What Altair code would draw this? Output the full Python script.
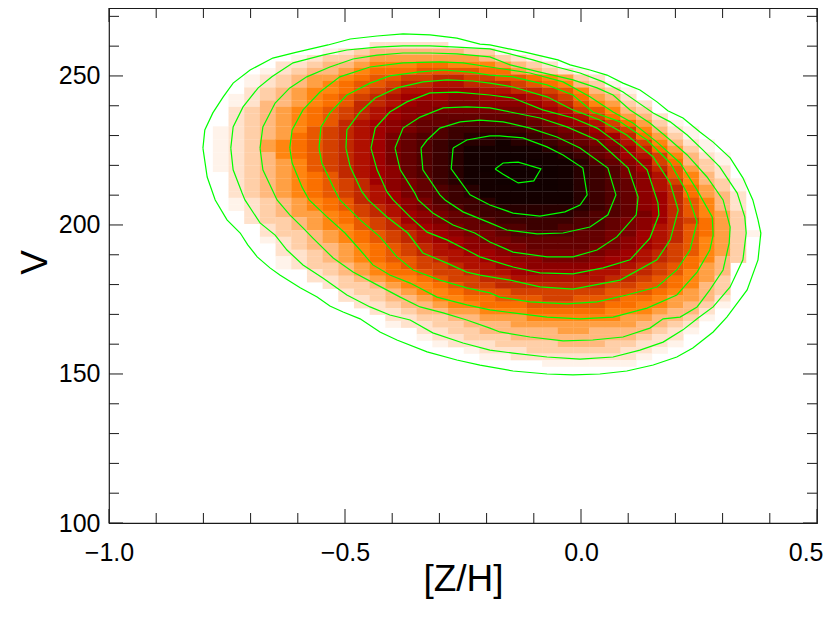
import altair as alt
import pandas as pd

# Density cells, read row by row from the top of the picture; one base-21 digit per cell.
cell_rows = [
    "000000000022222",
    "0000000123444444331",
    "000001233455555554321",
    "0000223445666776665432",
    "000123445677788887754321",
    "00123455678899aa998876532",
    "001234567889aabbaaa9876431",
    "00234566789abbcccbbaa986431",
    "0123456789abcccddcccba97542",
    "012445678aabcddeedddcba86532",
    "023456789abcddeeeeeedcb98643",
    "023456789abcdeffffffedcb97542",
    "02345678abcdeffgggggfedcb97531",
    "12345689abcdefghhhhhgfeeca96421",
    "12345789abcefgghiiiihgfedca7531",
    "12356789abcefghiiijiihgfedb96421",
    "12356789abcefghijjjjjihgfeca7531",
    "12346789abcefghijjkkjjihfecb96421",
    "12345689abcefghijjkkkjjigfdc97431",
    "12345689abcdfghijkkkkkjihgeca8532",
    "02345678abcdfghijjkkkkjihgedb8642",
    "023456789acdefhijjkkkkjihgfdb96431",
    "023456789abdefghijjkkkjihgfdba7531",
    "023456789abcefghijjjjjjihgfdca7542",
    "012345678abcdeghhijjjjjihgfdca8642",
    "0123456789abdefghhiiiiiihgfdca8642",
    "0023455679abcdefghhiiiihggfeca8653",
    "00233456789acdeffghhhhhggfedca9753",
    "00023456689abcdeffgghhgggfedba8753",
    "000233456789abcdeefggggffeecba87531",
    "000123456789abccdeeffffffedcba8653",
    "0000234456789abcddeeffffeedcb98653",
    "0000223456789abbccdeeeeeedcba98653",
    "00001234567889abbccddeeedccba97643",
    "000012334567899abbccddddccba98754",
    "0000002345677899abbcccccbbaa98654",
    "00000022345667899aabbbbbbaa987653",
    "000000023345667899aaaaaaa99887643",
    "000000002334566788899999988876543",
    "000000002234456677888998887765542",
    "000000000223445667778888877665431",
    "00000000002234455666777776665442",
    "00000000000223344555666666554431",
    "0000000000012233444555555554432",
    "0000000000000223344444554444321",
    "000000000000012233344444444322",
    "000000000000001222333344433221",
    "00000000000000001222333333221",
    "0000000000000000011222222221",
    "000000000000000000000111111",
]
grid_x0, grid_dx = -0.780, 0.03322
grid_y0, grid_dy = 261.4, 2.178

color_levels = list(range(21))
color_values = [
    "#ffffff", "#fff3ea", "#ffe2cc", "#ffcfa8", "#ffb97e", "#ffa044", "#ff8510",
    "#fa7000", "#e85800", "#d44000", "#c02800", "#b01000", "#a00000", "#8c0000",
    "#780000", "#640000", "#500000", "#3c0000", "#280000", "#140000", "#000000",
]

contour_1 = [(-.801,225.8),(-.797,231.9),(-.780,237.6),(-.758,243.0),(-.737,247.6),(-.701,252.0),(-.653,256.0),(-.602,258.0),(-.536,260.4),(-.489,262.4),(-.432,263.4),(-.377,264.1),(-.320,263.8),(-.263,262.7),(-.214,260.7),(-.193,260.4),(-.119,258.0),(-.049,255.4),(-.023,253.7),(.019,252.0),(.055,250.3),(.089,247.6),(.125,245.3),(.161,241.3),(.184,238.3),(.216,235.9),(.252,231.2),(.280,227.8),(.316,222.5),(.343,215.8),(.364,208.4),(.375,201.7),(.381,197.3),(.375,188.3),(.352,178.2),(.309,169.1),(.280,164.1),(.237,158.7),(.203,155.7),(.153,153.0),(.097,151.0),(.040,150.0),(-.017,149.7),(-.072,150.0),(-.144,151.0),(-.214,153.0),(-.263,154.7),(-.326,157.4),(-.390,161.4),(-.426,164.1),(-.468,168.5),(-.504,170.8),(-.532,172.8),(-.559,175.8),(-.595,178.9),(-.638,183.2),(-.659,185.6),(-.686,189.3),(-.706,193.3),(-.722,197.3),(-.750,201.7),(-.775,208.4),(-.792,216.1)]
contour_2 = [(-.742,225.8),(-.737,232.9),(-.716,239.6),(-.684,246.0),(-.655,249.7),(-.610,254.4),(-.547,257.0),(-.496,258.7),(-.432,259.7),(-.377,260.1),(-.320,260.1),(-.263,259.7),(-.193,259.1),(-.102,255.4),(-.051,253.0),(-.002,251.0),(.047,248.0),(.089,244.6),(.119,241.3),(.153,237.6),(.189,234.6),(.225,230.2),(.258,225.2),(.294,219.5),(.331,210.7),(.347,202.7),(.350,197.3),(.343,188.3),(.316,179.2),(.280,172.5),(.248,168.8),(.216,164.8),(.174,160.7),(.125,158.0),(.068,155.7),(-.002,155.0),(-.072,155.7),(-.144,157.0),(-.193,158.0),(-.250,160.4),(-.314,163.8),(-.362,168.1),(-.405,169.8),(-.447,172.5),(-.496,176.5),(-.547,182.2),(-.589,186.6),(-.623,191.6),(-.648,196.6),(-.680,200.7),(-.712,208.4),(-.718,210.7),(-.737,218.5)]
contour_3 = [(-.680,225.8),(-.674,232.9),(-.648,240.9),(-.617,246.0),(-.581,249.7),(-.532,253.0),(-.483,255.7),(-.432,257.0),(-.377,257.7),(-.320,257.7),(-.263,257.4),(-.193,256.4),(-.150,253.7),(-.087,251.3),(-.017,248.7),(.034,246.0),(.068,243.6),(.104,238.6),(.146,234.2),(.189,228.5),(.225,223.5),(.267,216.1),(.301,208.4),(.316,199.3),(.314,194.0),(.301,184.9),(.273,178.2),(.246,172.5),(.210,169.1),(.174,168.5),(.146,165.4),(.089,162.4),(.025,161.4),(-.038,161.1),(-.108,162.4),(-.172,164.1),(-.193,165.4),(-.242,168.1),(-.292,170.5),(-.341,172.5),(-.383,175.8),(-.432,179.9),(-.483,184.2),(-.525,188.9),(-.568,195.6),(-.589,199.0),(-.617,203.4),(-.644,208.4),(-.674,218.5)]
contour_4 = [(-.617,225.8),(-.612,231.9),(-.589,238.6),(-.553,244.6),(-.511,249.7),(-.447,253.0),(-.377,254.4),(-.299,254.7),(-.250,254.4),(-.193,253.0),(-.108,251.0),(-.038,248.0),(.019,243.0),(.068,237.9),(.110,234.2),(.161,227.8),(.210,220.8),(.246,211.7),(.278,202.7),(.280,196.6),(.273,191.6),(.246,184.2),(.203,176.5),(.140,172.1),(.068,169.1),(-.002,168.5),(-.072,169.1),(-.144,170.5),(-.193,171.5),(-.242,173.2),(-.305,175.8),(-.362,180.5),(-.405,183.2),(-.441,186.6),(-.468,191.6),(-.500,197.3),(-.538,202.7),(-.576,208.4),(-.591,212.7),(-.612,220.8)]
contour_5 = [(-.555,225.8),(-.551,232.9),(-.532,237.6),(-.496,243.6),(-.447,247.6),(-.405,250.0),(-.347,251.3),(-.292,252.0),(-.235,251.3),(-.193,250.3),(-.144,249.7),(-.072,247.0),(-.017,243.6),(.025,237.9),(.083,234.6),(.140,228.5),(.189,220.8),(.225,210.7),(.246,201.0),(.231,191.6),(.203,184.9),(.161,179.2),(.097,176.5),(.034,174.2),(-.030,173.5),(-.108,174.2),(-.172,175.8),(-.193,177.2),(-.242,178.9),(-.299,181.5),(-.356,184.9),(-.390,189.3),(-.426,196.0),(-.468,201.7),(-.511,208.4),(-.525,212.7),(-.549,220.8)]
contour_6 = [(-.498,225.8),(-.496,231.9),(-.468,237.9),(-.436,242.6),(-.390,246.0),(-.335,248.0),(-.284,248.7),(-.229,248.3),(-.193,247.6),(-.144,246.3),(-.072,243.0),(-.017,238.6),(.040,235.2),(.097,230.2),(.153,222.8),(.189,214.1),(.206,205.0),(.189,195.0),(.161,188.3),(.083,181.5),(-.017,178.5),(-.087,179.2),(-.150,181.5),(-.214,183.2),(-.242,184.2),(-.284,187.2),(-.335,190.6),(-.367,197.3),(-.411,202.7),(-.451,208.4),(-.464,211.1),(-.489,219.5)]
contour_7 = [(-.445,225.8),(-.436,232.5),(-.405,237.9),(-.369,241.3),(-.320,244.3),(-.263,244.6),(-.193,243.6),(-.144,242.6),(-.081,238.6),(-.017,235.9),(.034,232.5),(.089,226.2),(.140,218.5),(.163,207.4),(.165,203.4),(.146,195.6),(.104,188.3),(.047,185.6),(-.017,183.6),(-.087,183.9),(-.144,185.9),(-.214,189.3),(-.242,191.6),(-.284,195.0),(-.326,197.6),(-.362,202.7),(-.398,208.4),(-.411,211.1),(-.432,218.5)]
contour_8 = [(-.394,225.8),(-.377,232.5),(-.341,236.2),(-.292,239.3),(-.242,239.6),(-.193,239.3),(-.150,237.9),(-.087,235.9),(-.030,232.9),(.034,228.5),(.100,219.1),(.121,209.4),(.117,203.4),(.076,196.0),(.034,191.6),(-.017,189.3),(-.072,189.3),(-.144,190.9),(-.193,194.3),(-.225,197.3),(-.271,200.0),(-.314,204.0),(-.345,208.4),(-.352,210.7),(-.383,218.5)]
contour_9 = [(-.339,225.8),(-.326,228.5),(-.299,232.5),(-.256,234.6),(-.214,235.2),(-.165,234.6),(-.108,232.5),(-.051,229.5),(-.002,225.8),(.057,219.1),(.074,210.1),(.057,203.4),(.019,199.3),(-.038,197.3),(-.093,197.0),(-.157,198.3),(-.193,200.7),(-.250,204.4),(-.288,208.4),(-.299,210.1),(-.335,218.5)]
contour_10 = [(-.271,225.8),(-.242,228.5),(-.193,229.9),(-.172,229.9),(-.123,229.2),(-.072,226.2),(-.038,223.5),(.004,219.1),(.013,210.1),(-.002,206.7),(-.034,204.4),(-.087,203.0),(-.144,204.0),(-.193,206.7),(-.235,210.1),(-.275,218.8)]
contour_11 = [(-.182,218.8),(-.165,220.8),(-.133,221.1),(-.085,218.8),(-.100,214.8),(-.133,214.1),(-.165,217.0)]

x_major = [-1.0, -0.5, 0.0, 0.5]
x_minor = [-0.9, -0.8, -0.7, -0.6, -0.4, -0.3, -0.2, -0.1, 0.1, 0.2, 0.3, 0.4]
y_major = [100, 150, 200, 250]
y_minor = [110, 120, 130, 140, 160, 170, 180, 190, 210, 220, 230, 240, 260, 270]

PLOT_W, PLOT_H = 708, 515
FONT = "Liberation Sans"
INK = "#1a1a1a"

x_scale = alt.Scale(domain=[-1.0, 0.5], nice=False, zero=False)
y_scale = alt.Scale(domain=[100, 272.8], nice=False, zero=False)

LAST_LABEL = "datum.value == 0.5"
x_axis = alt.Axis(
    title="[Z/H]", values=x_major, format=".1f", grid=False, domain=False, ticks=False,
    labelFont=FONT, labelFontSize=25, labelColor="black", labelPadding=17,
    labelFlush=False, labelOverlap=False,
    labelAlign={"condition": {"test": LAST_LABEL, "value": "right"}, "value": "center"},
    labelOffset={"condition": {"test": LAST_LABEL, "value": 6}, "value": 0},
    titleFont=FONT, titleFontSize=37, titleFontWeight="normal", titleColor="black",
    titleBaseline="alphabetic", titleX=354, titleY=67)
y_axis = alt.Axis(
    title="V", values=y_major, format="d", grid=False, domain=False, ticks=False,
    labelFont=FONT, labelFontSize=25, labelColor="black", labelPadding=9,
    labelFlush=False, labelOverlap=False,
    titleFont=FONT, titleFontSize=37, titleFontWeight="normal", titleColor="black",
    titleX=-55, titleY=254)

DIGITS = "0123456789abcdefghijk"
cells = []
for r, row in enumerate(cell_rows):
    for c, ch in enumerate(row):
        if ch != "0":
            cells.append({
                "x0": grid_x0 + c * grid_dx, "x1": grid_x0 + (c + 1.02) * grid_dx,
                "y0": grid_y0 - r * grid_dy, "y1": grid_y0 - (r + 1.04) * grid_dy,
                "level": DIGITS.index(ch),
            })

contours = [contour_1, contour_2, contour_3, contour_4, contour_5, contour_6,
            contour_7, contour_8, contour_9, contour_10, contour_11]
lines = []
for k, pts in enumerate(contours):
    for i, (px, py) in enumerate(pts + pts[:1]):
        lines.append({"x": px, "y": py, "contour": k, "i": i})

heat = alt.Chart(pd.DataFrame(cells)).mark_rect(strokeWidth=0).encode(
    x=alt.X("x0:Q", scale=x_scale, axis=x_axis),
    x2="x1:Q",
    y=alt.Y("y0:Q", scale=y_scale, axis=y_axis),
    y2="y1:Q",
    color=alt.Color("level:Q", scale=alt.Scale(domain=color_levels, range=color_values), legend=None),
)

contour_layer = alt.Chart(pd.DataFrame(lines)).mark_line(
    color="#00ff00", strokeWidth=1.2, interpolate="linear"
).encode(
    x=alt.X("x:Q", scale=x_scale, axis=x_axis),
    y=alt.Y("y:Q", scale=y_scale, axis=y_axis),
    detail="contour:N",
    order="i:Q",
)


def x_ticks(values, size):
    base = alt.Chart(pd.DataFrame({"v": values})).mark_rule(color=INK, strokeWidth=1)
    enc = alt.X("v:Q", scale=x_scale, axis=x_axis)
    return [
        base.encode(x=enc, y=alt.value(PLOT_H), y2=alt.value(PLOT_H - size)),
        base.encode(x=enc, y=alt.value(0), y2=alt.value(size)),
    ]


def y_ticks(values, size):
    base = alt.Chart(pd.DataFrame({"v": values})).mark_rule(color=INK, strokeWidth=1)
    enc = alt.Y("v:Q", scale=y_scale, axis=y_axis)
    return [
        base.encode(y=enc, x=alt.value(0), x2=alt.value(size)),
        base.encode(y=enc, x=alt.value(PLOT_W), x2=alt.value(PLOT_W - size)),
    ]


tick_layers = x_ticks(x_major, 14) + x_ticks(x_minor, 10) + y_ticks(y_major, 14) + y_ticks(y_minor, 10)

chart = alt.layer(heat, contour_layer, *tick_layers).properties(
    width=PLOT_W, height=PLOT_H,
    autosize=alt.AutoSizeParams(type="none"),
    padding={"left": 101, "top": 0, "right": 6, "bottom": 100},
    background="white",
).configure_view(stroke=INK, strokeWidth=1.2)

chart.save("out.html", embed_options={"renderer": "svg", "actions": False})
